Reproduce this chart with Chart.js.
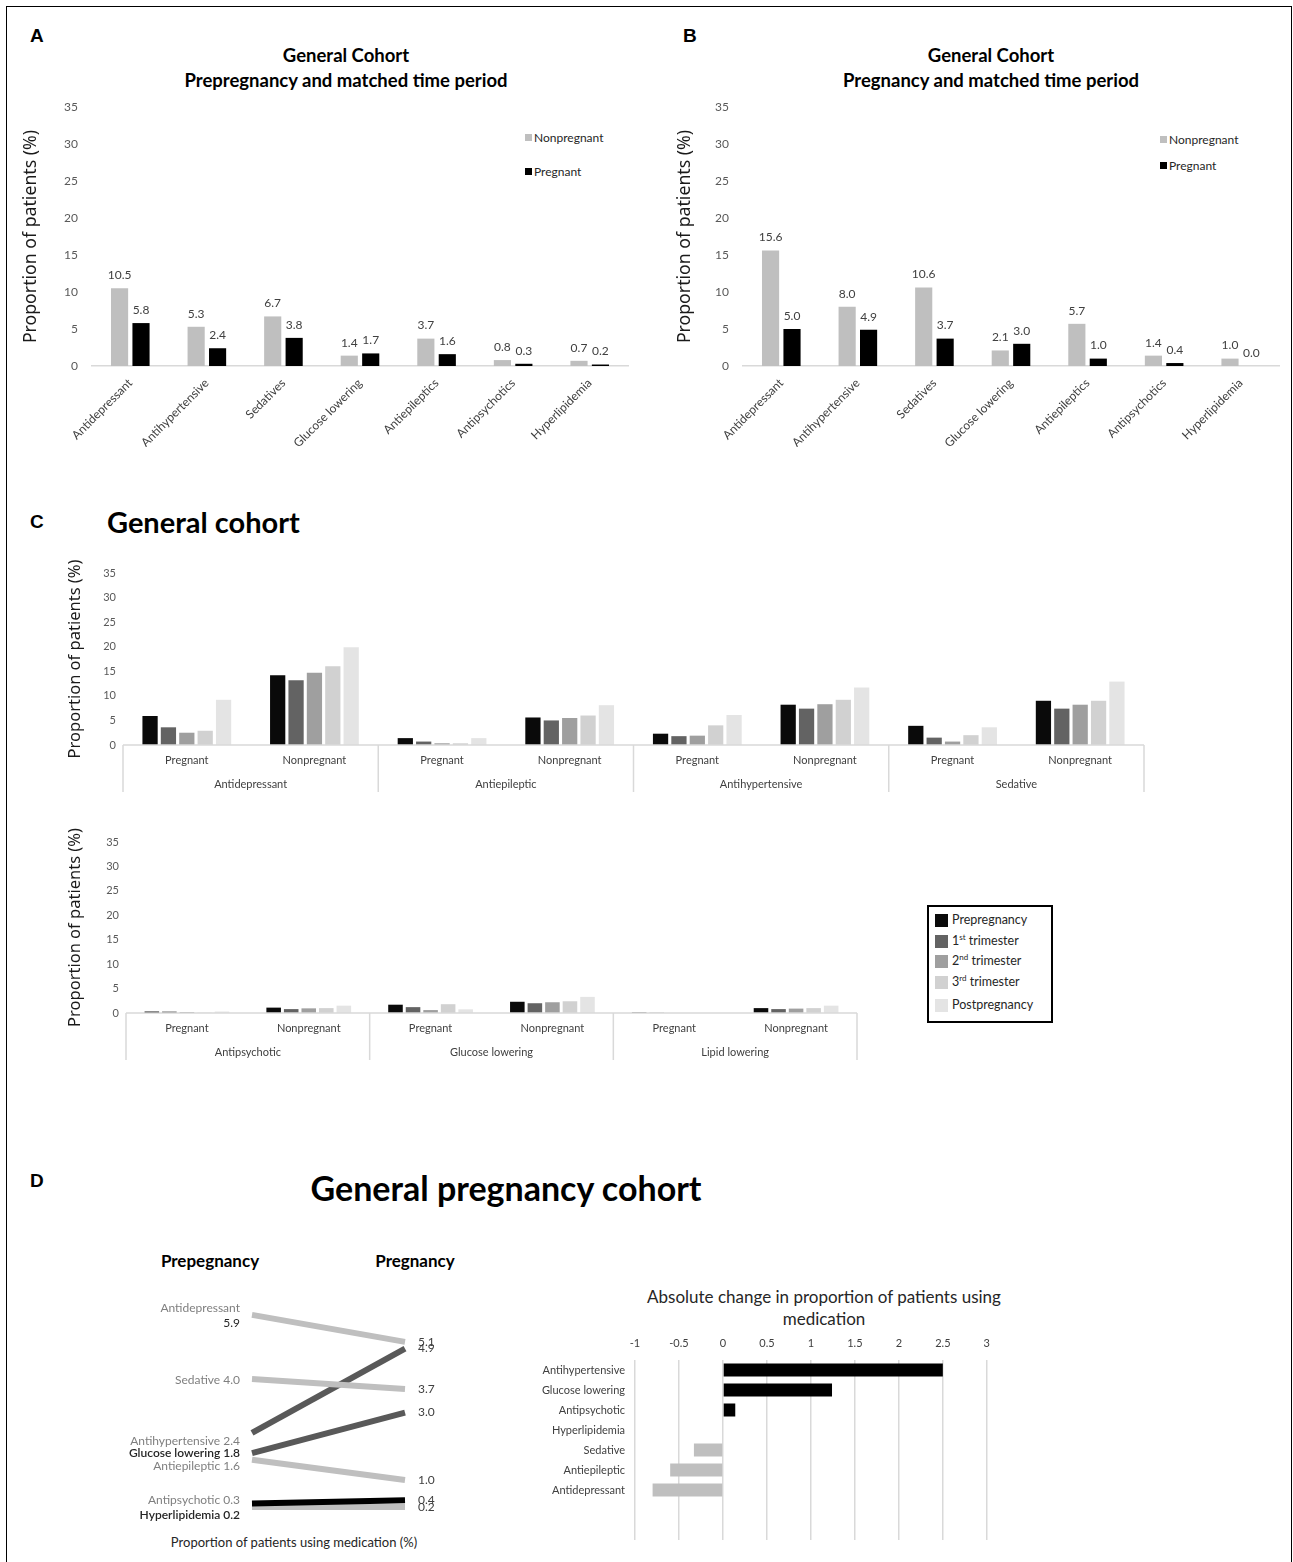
<!DOCTYPE html>
<html>
<head>
<meta charset="utf-8">
<script src="https://cdn.jsdelivr.net/npm/chart.js@4.4.0/dist/chart.umd.min.js"></script>
<style>
  body { margin: 0; background: #fff; }
  #page { position: relative; width: 1293px; height: 1562px; overflow: hidden; font-family: Lato, sans-serif; color: #262626; }
  .frame { position: absolute; left: 6px; top: 6px; width: 1284px; height: 1600px; border: 1.5px solid #000; }
  .t { position: absolute; white-space: nowrap; line-height: 1.2; }
  .c { transform: translate(-50%, -50%); }
  .m { transform: translateY(-50%); }
  .letter { font: bold 19px "Liberation Sans", Arial, sans-serif; color: #000; }
  .ttl { font: bold 18.5px Lato, sans-serif; color: #000; }
  .lg { font: 12px Lato, sans-serif; color: #262626; }
  .sw { position: absolute; width: 7px; height: 7px; }
  canvas { position: absolute; }
  #legendC { position: absolute; left: 927px; top: 905px; width: 122px; height: 114px; border: 2px solid #000; }
  #legendC .it { position: absolute; left: 6px; height: 14px; font: 12.5px Lato, sans-serif; color: #262626; }
  #legendC .box { position: absolute; left: 0; top: 0; width: 13px; height: 13px; }
  #legendC .tx { position: absolute; left: 17px; top: -2px; white-space: nowrap; }
  #legendC sup { font-size: 8px; line-height: 0; }
</style>
</head>
<body>
<div id="page">
  <div class="frame"></div>

  <!-- panel letters and titles -->
  <div class="t letter m" style="left:30px;top:36px">A</div>
  <div class="t letter m" style="left:683px;top:36px">B</div>
  <div class="t letter m" style="left:30px;top:522px">C</div>
  <div class="t letter m" style="left:30px;top:1181px">D</div>

  <div class="t ttl c" style="left:346px;top:55px">General Cohort</div>
  <div class="t ttl c" style="left:346px;top:80px">Prepregnancy and matched time period</div>
  <div class="t ttl c" style="left:991px;top:55px">General Cohort</div>
  <div class="t ttl c" style="left:991px;top:80px">Pregnancy and matched time period</div>

  <div class="t m" style="left:107px;top:521px;font:bold 29px Lato, sans-serif;color:#000">General cohort</div>
  <div class="t c" style="left:506px;top:1187px;font:bold 34px Lato, sans-serif;color:#000">General pregnancy cohort</div>

  <div class="t c" style="left:210px;top:1260px;font:bold 17px Lato, sans-serif;color:#000">Prepegnancy</div>
  <div class="t c" style="left:415px;top:1260px;font:bold 17px Lato, sans-serif;color:#000">Pregnancy</div>
  <div class="t c" style="left:294px;top:1542px;font:13px Lato, sans-serif">Proportion of patients using medication (%)</div>

  <div class="t c" style="left:824px;top:1296px;font:17px Lato, sans-serif">Absolute change in proportion of patients using</div>
  <div class="t c" style="left:824px;top:1318px;font:17px Lato, sans-serif">medication</div>

  <!-- legends A and B -->
  <div class="sw" style="left:525px;top:134px;background:#bfbfbf"></div>
  <div class="t lg m" style="left:534px;top:137px">Nonpregnant</div>
  <div class="sw" style="left:525px;top:168px;background:#000"></div>
  <div class="t lg m" style="left:534px;top:171px">Pregnant</div>

  <div class="sw" style="left:1160px;top:136px;background:#bfbfbf"></div>
  <div class="t lg m" style="left:1169px;top:139px">Nonpregnant</div>
  <div class="sw" style="left:1160px;top:162px;background:#000"></div>
  <div class="t lg m" style="left:1169px;top:165px">Pregnant</div>

  <div id="legendC"></div>

  <canvas id="chartA" width="625" height="350" style="left:15px;top:97px"></canvas>
  <canvas id="chartB" width="622" height="350" style="left:669px;top:97px"></canvas>
  <canvas id="chartC1" width="1100" height="242" style="left:60px;top:553px"></canvas>
  <canvas id="chartC2" width="813" height="241" style="left:60px;top:822px"></canvas>
  <canvas id="chartD1" width="380" height="240" style="left:100px;top:1290px"></canvas>
  <canvas id="chartD2" width="480" height="217" style="left:520px;top:1330px"></canvas>
</div>

<script>
// ---- data ----
var drugsAB = ['Antidepressant', 'Antihypertensive', 'Sedatives', 'Glucose lowering', 'Antiepileptics', 'Antipsychotics', 'Hyperlipidemia'];
var prepregNonpregnant = [10.5, 5.3, 6.7, 1.4, 3.7, 0.8, 0.7];
var prepregPregnant = [5.8, 2.4, 3.8, 1.7, 1.6, 0.3, 0.2];
var pregNonpregnant = [15.6, 8.0, 10.6, 2.1, 5.7, 1.4, 1.0];
var pregPregnant = [5.0, 4.9, 3.7, 3.0, 1.0, 0.4, 0.0];

var periodNames = ['Prepregnancy', '1<sup>st</sup> trimester', '2<sup>nd</sup> trimester', '3<sup>rd</sup> trimester', 'Postpregnancy'];
var periodColors = ['#0a0a0a', '#636363', '#9f9f9f', '#d1d1d1', '#e4e4e4'];
var statusNames = ['Pregnant', 'Nonpregnant'];
var groupsTop = ['Antidepressant', 'Antiepileptic', 'Antihypertensive', 'Sedative'];
var groupsBottom = ['Antipsychotic', 'Glucose lowering', 'Lipid lowering'];

// one value per group/status pair: Pregnant, Nonpregnant, Pregnant, Nonpregnant ...
var topPrepregnancy = [5.9, 14.2, 1.4, 5.6, 2.3, 8.2, 3.9, 9.0];
var topFirst = [3.6, 13.2, 0.7, 5.0, 1.8, 7.4, 1.5, 7.4];
var topSecond = [2.5, 14.7, 0.35, 5.5, 1.9, 8.3, 0.7, 8.2];
var topThird = [2.9, 16.0, 0.35, 6.0, 4.0, 9.2, 2.0, 9.0];
var topPost = [9.2, 19.9, 1.4, 8.1, 6.1, 11.7, 3.6, 12.9];

var bottomPrepregnancy = [0.3, 1.1, 1.7, 2.3, 0.1, 1.0];
var bottomFirst = [0.3, 0.8, 1.2, 2.0, 0.05, 0.8];
var bottomSecond = [0.2, 0.95, 0.6, 2.2, 0, 0.9];
var bottomThird = [0.05, 1.0, 1.8, 2.4, 0, 1.0];
var bottomPost = [0.3, 1.5, 0.75, 3.3, 0, 1.5];

var slopeDrugs = ['Antidepressant', 'Sedative', 'Antihypertensive', 'Glucose lowering', 'Antiepileptic', 'Antipsychotic', 'Hyperlipidemia'];
var slopePre = [5.9, 4.0, 2.4, 1.8, 1.6, 0.3, 0.2];
var slopePreg = [5.1, 3.7, 4.9, 3.0, 1.0, 0.4, 0.2];

var changeDrugs = ['Antihypertensive', 'Glucose lowering', 'Antipsychotic', 'Hyperlipidemia', 'Sedative', 'Antiepileptic', 'Antidepressant'];
var changeValues = [2.5, 1.24, 0.14, 0, -0.33, -0.6, -0.8];

Chart.defaults.font.family = 'Lato';
Chart.defaults.animation = false;
Chart.defaults.responsive = false;
Chart.defaults.plugins.legend.display = false;
Chart.defaults.plugins.tooltip.enabled = false;

// value on top of each bar (panels A, B)
var valueLabels = {
    id: 'valueLabels',
    afterDatasetsDraw: function (chart) {
        var ctx = chart.ctx;
        ctx.save();
        ctx.font = '12px Lato';
        ctx.fillStyle = '#404040';
        ctx.textAlign = 'center';
        ctx.textBaseline = 'bottom';
        chart.data.datasets.forEach(function (ds, i) {
            chart.getDatasetMeta(i).data.forEach(function (bar, j) {
                ctx.fillText(ds.data[j].toFixed(1), bar.x, bar.y - 7);
            });
        });
        ctx.restore();
    }
};

// second level of the category axis (panel C)
var groupAxis = {
    id: 'groupAxis',
    afterDraw: function (chart, args, opts) {
        var x = chart.scales.x, area = chart.chartArea, ctx = chart.ctx;
        var half = (x.getPixelForValue(1) - x.getPixelForValue(0)) / 2;
        ctx.save();
        ctx.strokeStyle = '#d9d9d9';
        ctx.lineWidth = 1.5;
        ctx.beginPath();
        ctx.moveTo(area.left, area.bottom);
        ctx.lineTo(area.right, area.bottom);
        for (var g = 0; g <= opts.groups.length; g++) {
            var px = x.getPixelForValue(g * opts.per) - half;
            ctx.moveTo(px, area.bottom);
            ctx.lineTo(px, area.bottom + opts.depth);
        }
        ctx.stroke();
        ctx.fillStyle = '#404040';
        ctx.font = '11px Lato';
        ctx.textAlign = 'center';
        ctx.textBaseline = 'middle';
        opts.groups.forEach(function (name, g) {
            var cx = (x.getPixelForValue(g * opts.per) + x.getPixelForValue(g * opts.per + opts.per - 1)) / 2;
            ctx.fillText(name, cx, area.bottom + opts.offset);
        });
        ctx.restore();
    }
};

// hidden grid but tick length kept, so the label gap does not eat vertical room
function hiddenGrid(len) {
    return { display: false, drawTicks: true, tickLength: len };
}

function cohortChart(id, nonpreg, preg, yWidth, titlePad) {
    return new Chart(document.getElementById(id), {
        type: 'bar',
        data: {
            labels: drugsAB,
            datasets: [
                { label: 'Nonpregnant', data: nonpreg, backgroundColor: '#bfbfbf' },
                { label: 'Pregnant', data: preg, backgroundColor: '#000000' }
            ]
        },
        options: {
            layout: { padding: { top: 10, right: 12, left: 0, bottom: 0 } },
            datasets: { bar: { categoryPercentage: 0.56, barPercentage: 0.8 } },
            scales: {
                x: {
                    grid: { display: false },
                    border: { color: '#d9d9d9', width: 1.5 },
                    ticks: { minRotation: 45, maxRotation: 45, font: { size: 12 }, color: '#404040', padding: 2 },
                    afterFit: function (s) { s.height = 81; }
                },
                y: {
                    min: 0, max: 35,
                    grid: hiddenGrid(14),
                    border: { display: false },
                    ticks: { stepSize: 5, font: { size: 12 }, color: '#595959', padding: 0 },
                    title: { display: true, text: 'Proportion of patients (%)', color: '#1a1a1a', font: { family: 'Noto Sans', size: 17.7 }, padding: { top: 5, bottom: 0 } },
                    afterFit: function (s) { s.width = yWidth; }
                }
            }
        },
        plugins: [valueLabels]
    });
}

cohortChart('chartA', prepregNonpregnant, prepregPregnant, 77, 6);
cohortChart('chartB', pregNonpregnant, pregPregnant, 74, 7);

function periodChart(id, groups, series, yWidth) {
    var labels = [];
    groups.forEach(function () { statusNames.forEach(function (s) { labels.push(s); }); });
    return new Chart(document.getElementById(id), {
        type: 'bar',
        data: {
            labels: labels,
            datasets: series.map(function (vals, i) {
                return { label: periodNames[i], data: vals, backgroundColor: periodColors[i] };
            })
        },
        options: {
            layout: { padding: { top: 20, right: 16, left: 0, bottom: 0 } },
            datasets: { bar: { categoryPercentage: 0.72, barPercentage: 0.83 } },
            scales: {
                x: {
                    grid: { display: false, drawTicks: false },
                    border: { display: false },
                    ticks: { maxRotation: 0, font: { size: 11 }, color: '#404040', padding: 9 },
                    afterFit: function (s) { s.height = 50; }
                },
                y: {
                    min: 0, max: 35,
                    grid: hiddenGrid(7),
                    border: { display: false },
                    ticks: { stepSize: 5, font: { size: 11 }, color: '#595959', padding: 0 },
                    title: { display: true, text: 'Proportion of patients (%)', color: '#1a1a1a', font: { family: 'Noto Sans', size: 16.5 }, padding: { top: 5, bottom: 0 } },
                    afterFit: function (s) { s.width = yWidth; }
                }
            },
            plugins: { groupAxis: { groups: groups, per: 2, depth: 47, offset: 39 } }
        },
        plugins: [groupAxis]
    });
}

periodChart('chartC1', groupsTop, [topPrepregnancy, topFirst, topSecond, topThird, topPost], 63);
periodChart('chartC2', groupsBottom, [bottomPrepregnancy, bottomFirst, bottomSecond, bottomThird, bottomPost], 66);

// legend for panel C
var legendC = document.getElementById('legendC');
var legendRows = [16, 37, 57, 78, 101];
periodNames.forEach(function (name, i) {
    var it = document.createElement('div');
    it.className = 'it';
    it.style.top = (legendRows[i] - 9) + 'px';
    it.innerHTML = '<div class="box" style="background:' + periodColors[i] + '"></div><div class="tx">' + name + '</div>';
    legendC.appendChild(it);
});

// slope chart, panel D left
var slopeColors = ['#bfbfbf', '#bfbfbf', '#595959', '#595959', '#bfbfbf', '#000000', '#bfbfbf'];
var slopeLabelStyle = [
    { dy: 0, split: true, color: '#7f7f7f' },
    { dy: 1, color: '#7f7f7f' },
    { dy: 8, color: '#7f7f7f' },
    { dy: 0, color: '#262626', bold: true },
    { dy: 6, color: '#7f7f7f' },
    { dy: -3, color: '#7f7f7f' },
    { dy: 8, color: '#262626', bold: true }
];

var slopeLabels = {
    id: 'slopeLabels',
    afterDraw: function (chart) {
        var ctx = chart.ctx;
        ctx.save();
        ctx.textBaseline = 'middle';
        chart.data.datasets.forEach(function (ds, i) {
            var pts = chart.getDatasetMeta(i).data;
            var st = slopeLabelStyle[i];
            var lx = pts[0].x - 12, ly = pts[0].y + st.dy;
            ctx.textAlign = 'right';
            ctx.font = (st.bold ? '600 ' : '') + '12px Lato';
            if (st.split) {
                ctx.fillStyle = st.color;
                ctx.fillText(ds.label, lx, ly - 7);
                ctx.fillStyle = '#262626';
                ctx.fillText(ds.data[0].toFixed(1), lx, ly + 8);
            } else {
                ctx.fillStyle = st.color;
                ctx.fillText(ds.label + ' ' + ds.data[0].toFixed(1), lx, ly);
            }
            ctx.textAlign = 'left';
            ctx.font = '12px Lato';
            ctx.fillStyle = '#404040';
            ctx.fillText(ds.data[1].toFixed(1), pts[1].x + 13, pts[1].y);
        });
        ctx.restore();
    }
};

new Chart(document.getElementById('chartD1'), {
    type: 'line',
    data: {
        labels: ['Prepegnancy', 'Pregnancy'],
        datasets: slopeDrugs.map(function (name, i) {
            return {
                label: name, data: [slopePre[i], slopePreg[i]],
                borderColor: slopeColors[i], borderWidth: 6, pointRadius: 0, clip: false, borderCapStyle: 'butt'
            };
        })
    },
    options: {
        layout: { padding: { left: 152, right: 75, top: 21.5, bottom: 16.3 } },
        scales: {
            x: { display: false, offset: false },
            y: { display: false, min: 0, max: 6 }
        }
    },
    plugins: [slopeLabels]
});

// change bar chart, panel D right
new Chart(document.getElementById('chartD2'), {
    type: 'bar',
    data: {
        labels: changeDrugs,
        datasets: [{
            data: changeValues,
            backgroundColor: changeValues.map(function (v) { return v >= 0 ? '#000000' : '#bfbfbf'; }),
            categoryPercentage: 1, barPercentage: 0.65
        }]
    },
    options: {
        indexAxis: 'y',
        layout: { padding: { top: 0, right: 12, left: 0, bottom: 7 } },
        scales: {
            x: {
                position: 'top', min: -1, max: 3,
                grid: { color: '#d9d9d9', lineWidth: 1.5, drawTicks: false },
                border: { display: false },
                ticks: { stepSize: 0.5, font: { size: 11 }, color: '#404040', padding: 10, callback: function (v) { return v; } },
                afterFit: function (s) { s.height = 30; }
            },
            y: {
                labels: changeDrugs.concat(['', '']),
                grid: hiddenGrid(10),
                border: { display: false },
                ticks: { font: { size: 11 }, color: '#404040', padding: 0 },
                afterFit: function (s) { s.width = 115; }
            }
        }
    }
});
</script>
</body>
</html>
